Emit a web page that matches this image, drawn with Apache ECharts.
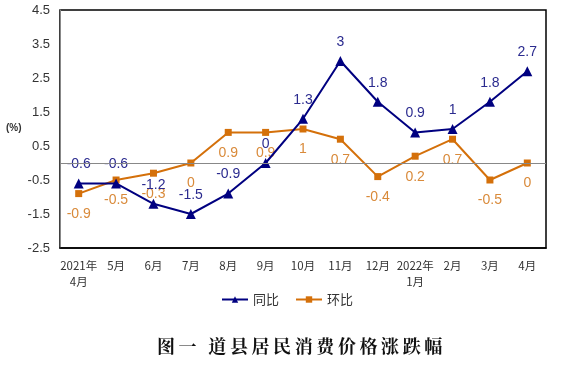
<!DOCTYPE html>
<html><head><meta charset="utf-8">
<script src="https://cdn.jsdelivr.net/npm/echarts@6/dist/echarts.min.js"></script>
<style>html,body{margin:0;padding:0;background:#fff}#c{width:574px;height:374px}</style>
</head><body><div id="c"></div>
<script>
var categories = ['2021年\n4月','5月','6月','7月','8月','9月','10月','11月','12月','2022年\n1月','2月','3月','4月'];
var yoy = [-0.6,-0.6,-1.2,-1.5,-0.9,0,1.3,3,1.8,0.9,1,1.8,2.7];
var mom = [-0.9,-0.5,-0.3,0,0.9,0.9,1,0.7,-0.4,0.2,0.7,-0.5,0];
var yTicks = [-2.5,-1.5,-0.5,0.5,1.5,2.5,3.5,4.5];
var titleText = '图一 道县居民消费价格涨跌幅';

var chart = echarts.init(document.getElementById('c'));
chart.setOption({
  animation:false,
  backgroundColor:'#fff',
  grid:{left:60,right:28,top:10,bottom:126,show:true,borderColor:'#000',borderWidth:1.5},
  legend:{top:288,left:'center',itemWidth:26,itemHeight:8,itemGap:16,
    textStyle:{fontSize:13,color:'#333',fontFamily:'Noto Sans CJK SC'},
    data:['同比','环比']},
  xAxis:{type:'category',data:categories,boundaryGap:true,
    axisLine:{show:true,onZero:false,lineStyle:{color:'#000',width:1.5}},
    axisTick:{show:false},
    axisLabel:{fontSize:11.5,color:'#333',margin:10,lineHeight:16,fontFamily:'Noto Sans CJK SC',interval:0}},
  yAxis:{type:'value',min:-2.5,max:4.5,interval:0.5,
    splitLine:{show:false},
    axisTick:{show:false},
    axisLine:{show:true,lineStyle:{color:'#888',width:1}},
    axisLabel:{fontSize:13,color:'#333',margin:10,fontFamily:'Liberation Sans',
      formatter:function(v){return yTicks.some(function(t){return Math.abs(t-v)<1e-6;})?String(v):'';}}},
  graphic:[
    {type:'text',left:6,top:123,style:{text:'(%)',fontSize:10,fontWeight:'bold',fill:'#333',fontFamily:'Liberation Sans'}},
    {type:'text',left:157,top:337,style:{text:titleText.split('').join('\u2009'),fontSize:18,fontWeight:'bold',fill:'#111',fontFamily:'Noto Serif CJK SC, Noto Sans CJK SC'}}
  ],
  series:[
    {name:'同比',type:'line',data:yoy,symbol:'triangle',symbolSize:10,
      itemStyle:{color:'#000080'},lineStyle:{color:'#000080',width:2},
      label:{show:true,position:'top',distance:7,fontSize:14,color:'#2B2B8F',fontFamily:'Liberation Sans'},
      markLine:{silent:true,symbol:'none',label:{show:false},lineStyle:{color:'#888',width:1,type:'solid'},data:[{yAxis:0}]},
      z:3},
    {name:'环比',type:'line',data:mom,symbol:'rect',symbolSize:7,
      itemStyle:{color:'#D4700A'},lineStyle:{color:'#D4700A',width:2},
      label:{show:true,position:'bottom',distance:10,fontSize:14,color:'#D98A3A',fontFamily:'Liberation Sans'},
      z:2}
  ]
});
</script></body></html>
